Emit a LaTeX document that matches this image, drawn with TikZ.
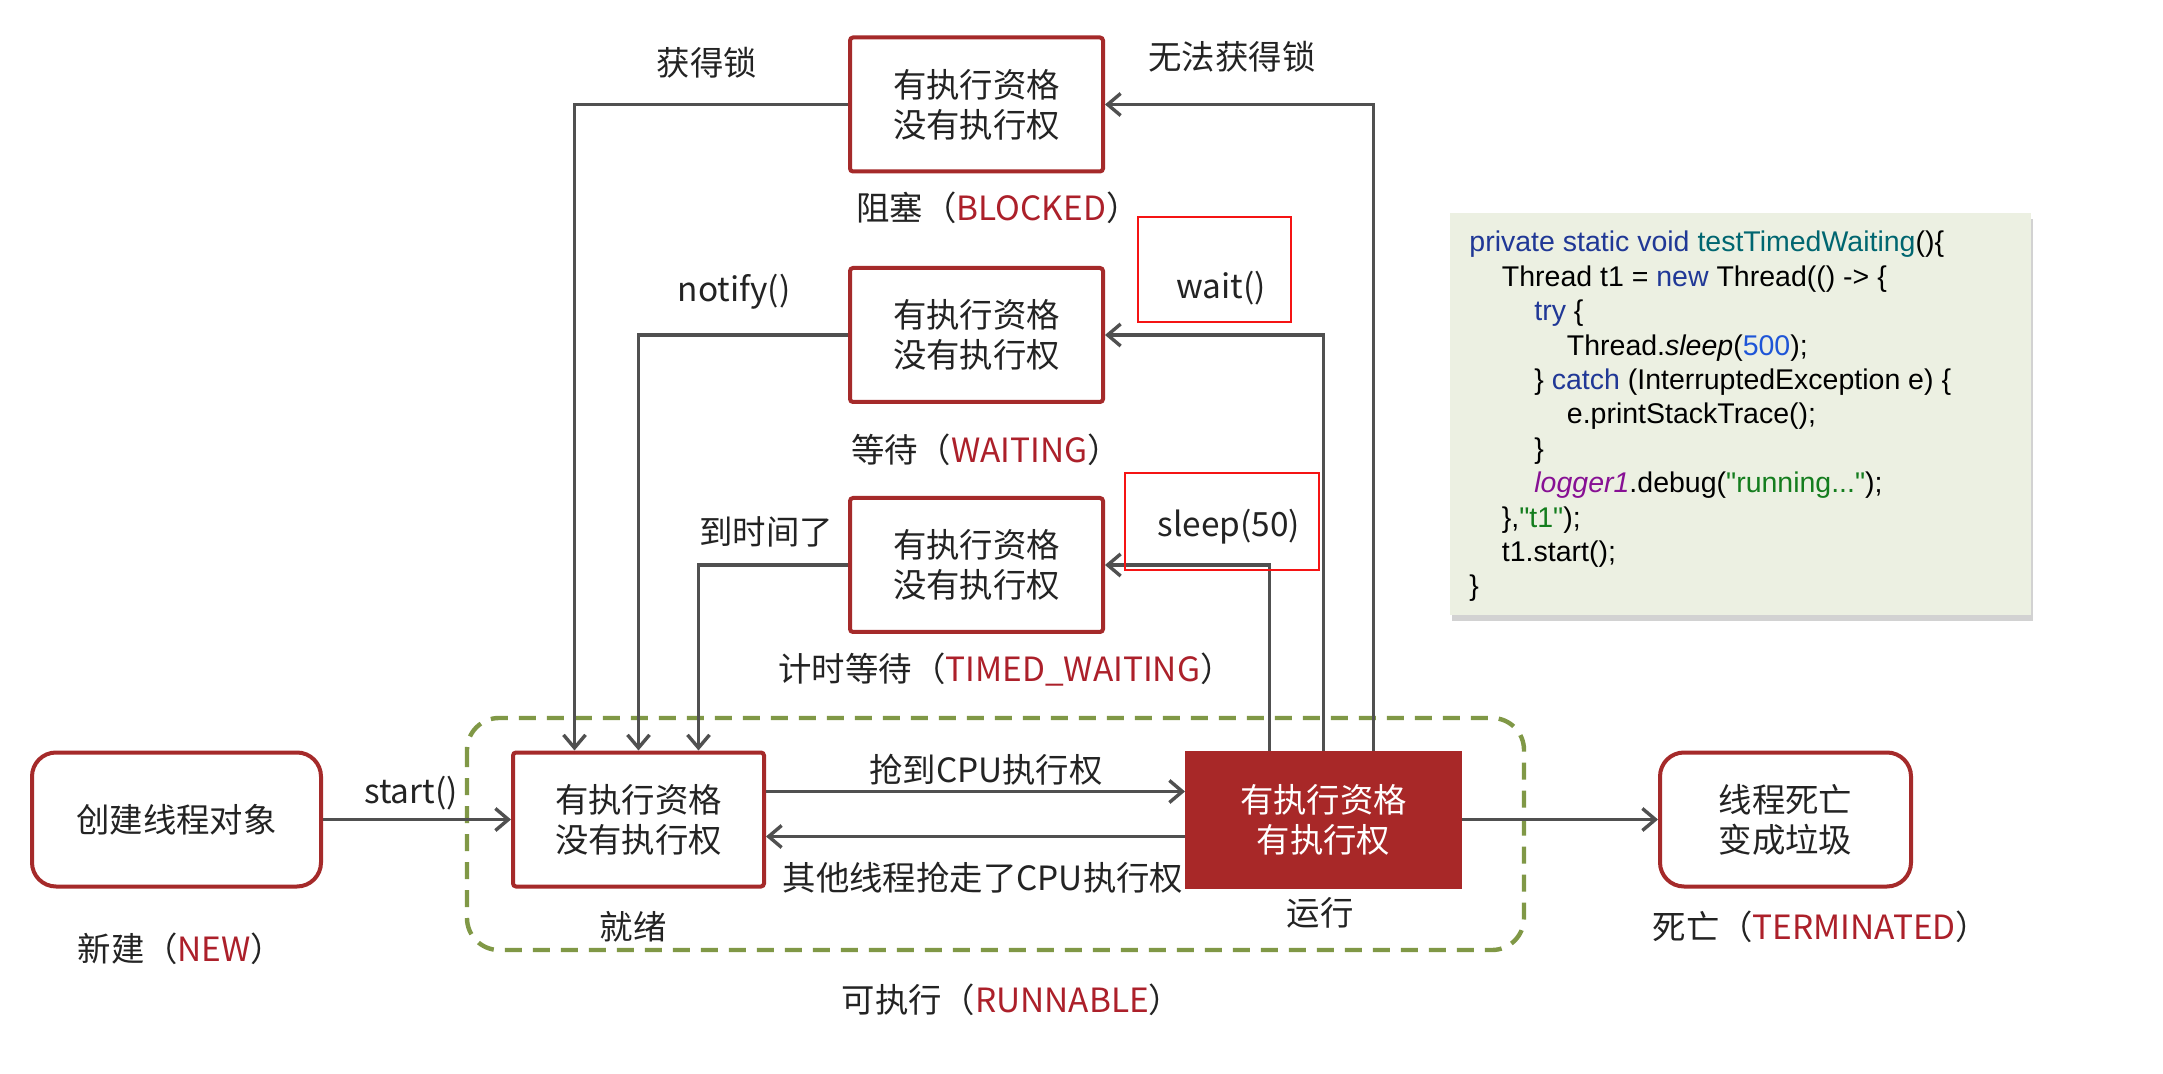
\documentclass[tikz,border=0pt]{standalone}
\usepackage{fontspec}
\setmainfont{Noto Sans CJK SC}
\newfontfamily\codefont{Liberation Sans}
\usetikzlibrary{arrows.meta,shadows}
\definecolor{box edge}{RGB}{165,42,42}
\definecolor{run area}{RGB}{168,40,40}
\definecolor{state name}{RGB}{172,32,42}
\definecolor{text gray}{RGB}{35,35,35}
\definecolor{link}{RGB}{80,80,80}
\definecolor{runnable edge}{RGB}{128,152,70}
\definecolor{mark red}{RGB}{245,20,20}
\definecolor{code area}{RGB}{236,240,226}
\definecolor{code kw}{RGB}{32,56,150}
\definecolor{code fn}{RGB}{0,102,112}
\definecolor{code num}{RGB}{30,85,215}
\definecolor{code obj}{RGB}{135,16,148}
\definecolor{code str}{RGB}{20,125,30}
\newcommand{\statename}[1]{\textcolor{state name}{#1}}
\tikzset{box/.style={draw=box edge, line width=2pt, inner sep=0pt, align=center,
		minimum height=67pt, rounded corners=1.5pt},
	rounded box/.style={box, rounded corners=12pt},
	run box/.style={box, draw=run area, fill=run area, text=white, rounded corners=0pt},
	flow/.style={draw=link, line width=1.7pt, -{Straight Barb[length=6.5pt,width=11pt]}},
	hilite/.style={draw=mark red, line width=1pt},
	code line/.style={anchor=base west, inner sep=0pt, text=black,
		font=\codefont\fontsize{14.25}{17}\selectfont}}

\begin{document}
\begin{tikzpicture}[x=0.5pt, y=-0.5pt, font=\fontsize{16.7}{20}\selectfont, text=text gray]
	\useasboundingbox[fill=white] (0,0) rectangle (2163,1074);
	\draw[runnable edge, line width=2.2pt, dash pattern=on 8.5pt off 5.5pt, rounded corners=16pt]
		(467,718) rectangle (1524,950);
	
	\node[rounded box, minimum width=144.5pt] (new) at (176.5,819.5) {创建线程对象};
	\node[box, minimum width=125.5pt] (ready) at (638.5,819.5) {有执行资格\\没有执行权};
	\node[run box, minimum width=136.5pt] (running) at (1323.5,819.5) {有执行资格\\有执行权};
	\node[rounded box, minimum width=125.5pt] (dead) at (1785.5,819.5) {线程死亡\\变成垃圾};
	\node[box, minimum width=126.5pt] (blocked) at (976.5,104.5) {有执行资格\\没有执行权};
	\node[box, minimum width=126.5pt] (waiting) at (976.5,335) {有执行资格\\没有执行权};
	\node[box, minimum width=126.5pt] (timed) at (976.5,565) {有执行资格\\没有执行权};
	
	\draw[flow] (new) -- (ready);
	\draw[flow] ([yshift=14pt]ready.east) -- ([yshift=14pt]running.west);
	\draw[flow] ([yshift=-8.5pt]running.west) -- ([yshift=-8.5pt]ready.east);
	\draw[flow] (running) -- (dead);
	\draw[flow] ([xshift=25pt]running.north) |- (blocked);
	\draw[flow] (running.north) |- (waiting);
	\draw[flow] ([xshift=-27pt]running.north) |- (timed);
	\draw[flow] (blocked) -| ([xshift=-32pt]ready.north);
	\draw[flow] (waiting) -| (ready);
	\draw[flow] (timed) -| ([xshift=30pt]ready.north);
	
	\draw[hilite] (1138,217) rectangle (1291,322);
	\draw[hilite] (1125,473) rectangle (1319,570);
	
	\node (getlock) at (707,63) {获得锁};
	\node (nolock) at (1232,57) {无法获得锁};
	\node (blockedname) at (998,208) {阻塞（\statename{BLOCKED}）};
	\node (notify) at (734,292) {notify()};
	\node (wait) at (1221,288) {wait()};
	\node (waitingname) at (986,450) {等待（\statename{WAITING}）};
	\node (timeup) at (766,532) {到时间了};
	\node (sleep) at (1229,527) {sleep(50)};
	\node (timedname) at (1006,670) {计时等待（\statename{TIMED\_WAITING}）};
	\node (start) at (411,793) {start()};
	\node (grab) at (986,770) {抢到CPU执行权};
	\node (lose) at (983,878) {其他线程抢走了CPU执行权};
	\node (readyname) at (633,927) {就绪};
	\node (runname) at (1320,913) {运行};
	\node (newname) at (181,949) {新建（\statename{NEW}）};
	\node (deadname) at (1821,927) {死亡（\statename{TERMINATED}）};
	\node (runnablename) at (1012,1000) {可执行（\statename{RUNNABLE}）};
	
	\node[fill=code area, inner sep=0pt, minimum width=290.5pt, minimum height=201pt,
		drop shadow={shadow xshift=1pt, shadow yshift=-3pt, opacity=.35}] (codebox) at (1740.5,414) {};
	\foreach \ind/\codetext [count=\n from 0] in {
		0/{\textcolor{code kw}{private static void} \textcolor{code fn}{testTimedWaiting}()\{},
		1/{Thread t1 = \textcolor{code kw}{new} Thread(() -> \{},
		2/{\textcolor{code kw}{try} \{},
		3/{Thread.\textit{sleep}(\textcolor{code num}{500});},
		2/{\} \textcolor{code kw}{catch} (InterruptedException e) \{},
		3/{e.printStackTrace();},
		2/{\}},
		2/{\textcolor{code obj}{\textit{logger1}}.debug(\textcolor{code str}{"running..."});},
		1/{\},\textcolor{code str}{"t1"});},
		1/{t1.start();},
		0/{\}}}
		\node[code line] (code\n) at (1469+32.5*\ind,252+34.4*\n) {\codetext};
\end{tikzpicture}
\end{document}
